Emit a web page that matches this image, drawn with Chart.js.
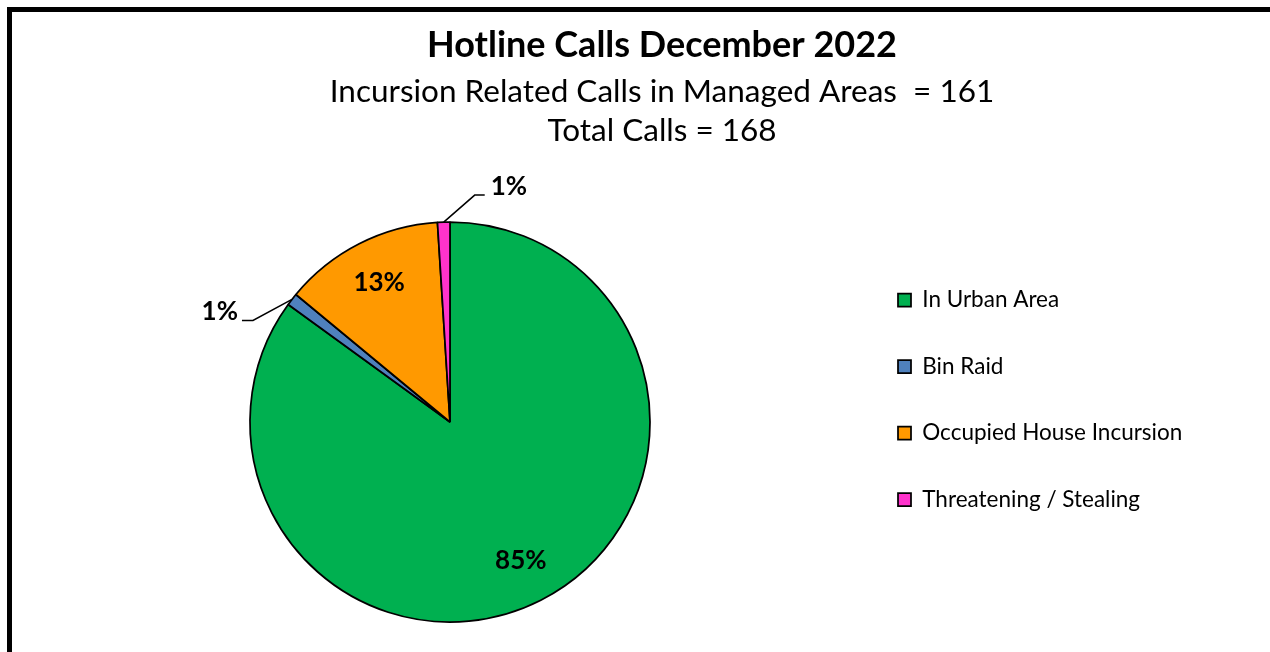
<!DOCTYPE html>
<html>
<head>
<meta charset="utf-8">
<script src="https://cdn.jsdelivr.net/npm/chart.js@4.4.1/dist/chart.umd.min.js"></script>
<style>
  html, body { margin: 0; padding: 0; background: #fff; overflow: hidden; width: 1270px; height: 652px; }
  #frame { position: absolute; left: 7px; top: 7px; width: 1300px; height: 700px; border: 5px solid #000; }
  #wrap { position: absolute; left: 0; top: 0; width: 1300px; height: 640px; }
</style>
</head>
<body>
<div id="frame"><div id="wrap"><canvas id="c"></canvas></div></div>
<script>
// ---- data ----
const titleText = 'Hotline Calls December 2022';
const subtitleLines = ['Incursion Related Calls in Managed Areas  = 161', 'Total Calls = 168'];
const categories = ['In Urban Area', 'Bin Raid', 'Occupied House Incursion', 'Threatening / Stealing'];
const percentValues = [85, 1, 13, 1];

// ---- style ----
const sliceColors = ['#00B050', '#4F81BD', '#FF9900', '#FF33CC'];
const FONT = 'Lato, "Open Sans", sans-serif';
const pieBox = { cx: 438, cy: 410, r: 200 };          // layout of the pie inside the canvas
const legendBoxX = 886;                                 // left of the legend swatches (canvas px)
const insideLabelRadius = 0.78;                         // fraction of radius for inside labels
const leaderStyle = {                                   // leader lines for the small slices
  1: { dx: -39, dy: 21, len: 11, side: -1, gap: 4 },
  3: { dx: 31, dy: -27, len: 10, side: 1, gap: 6 }
};
const legendPad = 44;

const layoutPlugin = {
  id: 'pieArea',
  afterLayout(chart) {
    const b = 1.75;
    chart.chartArea = {
      left: pieBox.cx - pieBox.r - b / 2, right: pieBox.cx + pieBox.r + b / 2,
      top: pieBox.cy - pieBox.r - b / 2, bottom: pieBox.cy + pieBox.r + b / 2,
      width: 2 * pieBox.r + b, height: 2 * pieBox.r + b
    };
    const lg = chart.legend;
    if (lg) {
      const shift = legendBoxX - (lg.left + legendPad);
      lg.left += shift; lg.right += shift;
    }
  }
};

const pctLabelPlugin = {
  id: 'pctLabels',
  afterDatasetsDraw(chart) {
    const ctx = chart.ctx;
    const ds = chart.data.datasets[0];
    const total = ds.data.reduce((a, v) => a + v, 0);
    const meta = chart.getDatasetMeta(0);
    ctx.save();
    ctx.fillStyle = '#000';
    ctx.strokeStyle = '#000';
    ctx.lineWidth = 1.5;
    ctx.font = 'bold 26px ' + FONT;
    meta.data.forEach((arc, i) => {
      const p = arc.getProps(['x', 'y', 'startAngle', 'endAngle', 'outerRadius'], true);
      const mid = (p.startAngle + p.endAngle) / 2;
      const txt = Math.round(ds.data[i] / total * 100) + '%';
      const L = leaderStyle[i];
      if (L) {
        const px = p.x + Math.cos(mid) * p.outerRadius;
        const py = p.y + Math.sin(mid) * p.outerRadius;
        const ex = px + L.dx, ey = py + L.dy;
        const hx = ex + L.side * L.len;
        ctx.beginPath();
        ctx.moveTo(px, py); ctx.lineTo(ex, ey); ctx.lineTo(hx, ey);
        ctx.stroke();
        ctx.textAlign = L.side > 0 ? 'left' : 'right';
        ctx.textBaseline = 'alphabetic';
        ctx.fillText(txt, hx + L.side * L.gap, ey);
      } else {
        const rr = p.outerRadius * insideLabelRadius;
        ctx.textAlign = 'center';
        ctx.textBaseline = 'middle';
        ctx.fillText(txt, p.x + Math.cos(mid) * rr, p.y + Math.sin(mid) * rr);
      }
    });
    ctx.restore();
  }
};

new Chart(document.getElementById('c'), {
  type: 'pie',
  data: {
    labels: categories,
    datasets: [{
      data: percentValues,
      backgroundColor: sliceColors,
      borderColor: '#000',
      borderWidth: 1.75,
      hoverOffset: 0,
      offset: 0
    }]
  },
  options: {
    responsive: true,
    maintainAspectRatio: false,
    animation: false,
    events: [],
    layout: { padding: { left: 100, right: 100, top: 0, bottom: 2.5 } },
    plugins: {
      title: {
        display: true, text: titleText, color: '#000',
        font: { family: FONT, size: 36, weight: 'bold', lineHeight: 1.2 },
        padding: { top: 12, bottom: 0 }
      },
      subtitle: {
        display: true, text: subtitleLines, color: '#000',
        font: { family: FONT, size: 31.5, weight: 'normal', lineHeight: 39 / 31.5 },
        padding: { top: 4.8, bottom: 0 }
      },
      legend: {
        position: 'right', fullSize: false, align: 'center',
        labels: {
          boxWidth: 13, boxHeight: 13, padding: legendPad, color: '#000',
          font: { family: FONT, size: 22.5 }
        }
      },
      tooltip: { enabled: false }
    }
  },
  plugins: [layoutPlugin, pctLabelPlugin]
});
</script>
</body>
</html>
